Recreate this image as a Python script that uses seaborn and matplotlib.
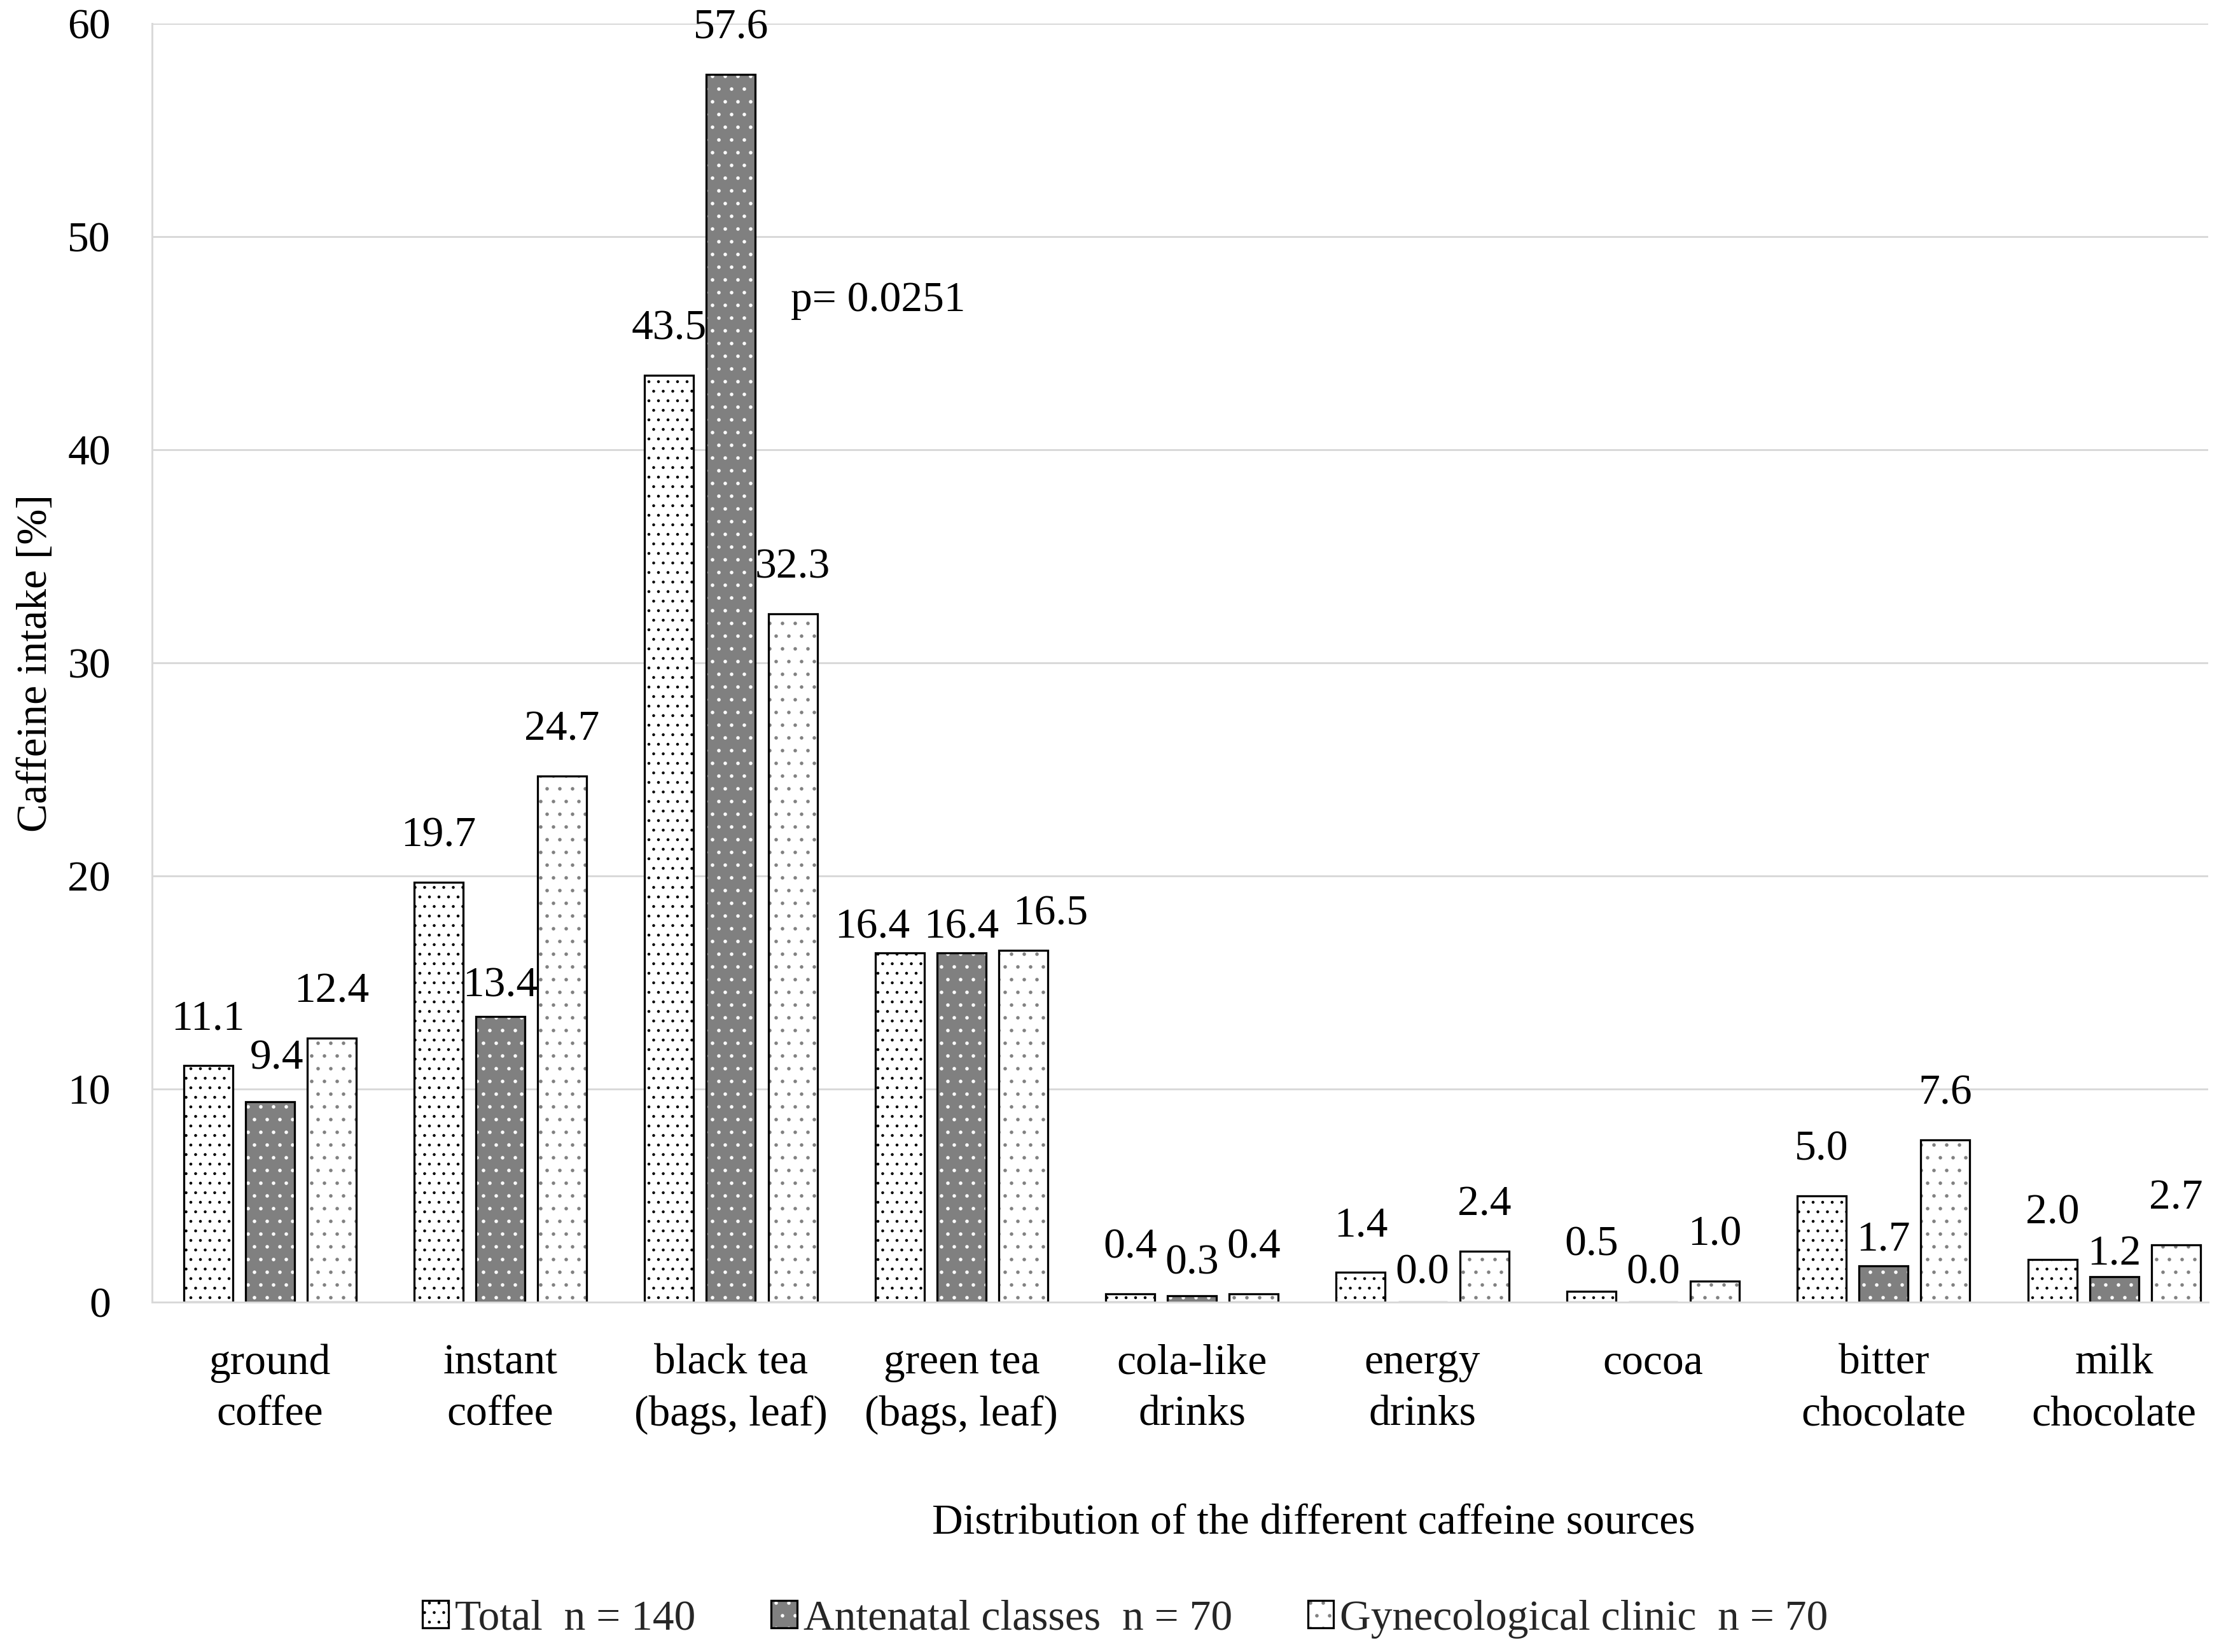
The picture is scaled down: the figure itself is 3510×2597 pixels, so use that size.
import numpy as np
import pandas as pd
import matplotlib
matplotlib.use("Agg")
import matplotlib.pyplot as plt
import seaborn as sns
from matplotlib.patches import Patch
from matplotlib.legend_handler import HandlerTuple

# ---- data ----
categories = ["ground\ncoffee", "instant\ncoffee", "black tea\n(bags, leaf)",
              "green tea\n(bags, leaf)", "cola-like\ndrinks", "energy\ndrinks",
              "cocoa", "bitter\nchocolate", "milk\nchocolate"]
groups = ["Total  n = 140", "Antenatal classes  n = 70", "Gynecological clinic  n = 70"]
total = [11.1, 19.7, 43.5, 16.4, 0.4, 1.4, 0.5, 5.0, 2.0]
antenatal = [9.4, 13.4, 57.6, 16.4, 0.3, 0.0, 0.0, 1.7, 1.2]
gynecological = [12.4, 24.7, 32.3, 16.5, 0.4, 2.4, 1.0, 7.6, 2.7]
y_ticks = [0, 10, 20, 30, 40, 50, 60]
p_text = "p= 0.0251"
p_pos = (2.26, 47.0)

df = pd.DataFrame({
    "source": categories * 3,
    "group": np.repeat(groups, len(categories)),
    "value": total + antenatal + gynecological,
})

sns.set_theme(style="white")
plt.rcParams["font.family"] = ["Liberation Serif", "DejaVu Serif"]
plt.rcParams["hatch.linewidth"] = 0.3
FS = 13.5
GRID = "#d9d9d9"

DPI = 360
fig = plt.figure(figsize=(3510 / DPI, 2597 / DPI), dpi=DPI)
ax = fig.add_axes([239 / 3510, 1 - 2047 / 2597, (3471 - 239) / 3510, (2047 - 37) / 2597])

face = {groups[0]: "white", groups[1]: "#808080", groups[2]: "white"}
hatch_col = ["black", "white", "#808080"]
hatches = ["....", "...", "..."]

# fill + hatch layer
sns.barplot(data=df, x="source", y="value", hue="group", order=categories,
            hue_order=groups, palette=face, width=0.804, gap=0.207, linewidth=0,
            saturation=1, errorbar=None, legend=False, ax=ax)
for cont, hc, h in zip(ax.containers, hatch_col, hatches):
    for bar in cont:
        bar.set_hatch(h)
        bar.set_edgecolor(hc)
        bar.set_linewidth(0)
n_first = len(ax.containers)

# outline layer
sns.barplot(data=df, x="source", y="value", hue="group", order=categories,
            hue_order=groups, palette={g: "black" for g in groups}, fill=False,
            width=0.804, gap=0.207, linewidth=0.65, saturation=1, errorbar=None,
            legend=False, ax=ax)

# value labels; a few are nudged (in points) the way the reference places them
PAD = 8.5
nudge = {(0, 3): (-8.5, -6.7), (2, 3): (8.5, -3.1),
         (1, 0): (2.2, -1.0), (1, 1): (0, -4.9), (1, 3): (0, -6.7),
         (1, 4): (0, -4.5), (1, 5): (0, -5.4), (1, 6): (0, -5.4),
         (1, 7): (0, -6.3), (1, 8): (0, -7.6)}
for gi, cont in enumerate(ax.containers[n_first:]):
    anns = ax.bar_label(cont, fmt="%.1f", padding=PAD, fontsize=FS, color="black")
    for ci, ann in enumerate(anns):
        dx, dy = nudge.get((gi, ci), (0, 0))
        ann.xyann = (dx, PAD + dy)

ax.text(p_pos[0], p_pos[1], p_text, ha="left", va="center", fontsize=FS, color="black")

ax.set_xlim(-0.511, len(categories) - 1 + 0.408)
ax.set_ylim(0, 60)
ax.set_yticks(y_ticks)
ax.yaxis.grid(True, color=GRID, linewidth=0.6)
ax.xaxis.grid(False)
ax.set_axisbelow(True)
for s in ["top", "right"]:
    ax.spines[s].set_visible(False)
for s in ["left", "bottom"]:
    ax.spines[s].set_color(GRID)
    ax.spines[s].set_linewidth(0.6)
ax.tick_params(axis="both", length=0, labelsize=FS, colors="black")
ax.tick_params(axis="x", pad=13)
ax.tick_params(axis="y", pad=13)
for lab in ax.get_xticklabels():
    lab.set_linespacing(1.43)

ax.set_xlabel("Distribution of the different caffeine sources", fontsize=FS, color="black")
ax.xaxis.set_label_coords(0.565, -0.158)
ax.set_ylabel("Caffeine intake [%]", fontsize=FS, color="black")
ax.yaxis.set_label_coords(-0.047, 0.5)

handles = []
for g, hc, h in zip(groups, hatch_col, hatches):
    handles.append((Patch(facecolor=face[g], edgecolor=hc, hatch=h, linewidth=0),
                    Patch(facecolor="none", edgecolor="black", linewidth=0.65)))
fig.legend(handles, groups, handler_map={tuple: HandlerTuple(ndivide=1, pad=0)},
           loc="center", bbox_to_anchor=(0.504, 1 - 2545 / 2597), ncol=3,
           frameon=False, fontsize=FS, handlelength=0.6, handleheight=0.6,
           handletextpad=0.15, columnspacing=1.76)

fig.savefig("out.png", dpi=DPI)
